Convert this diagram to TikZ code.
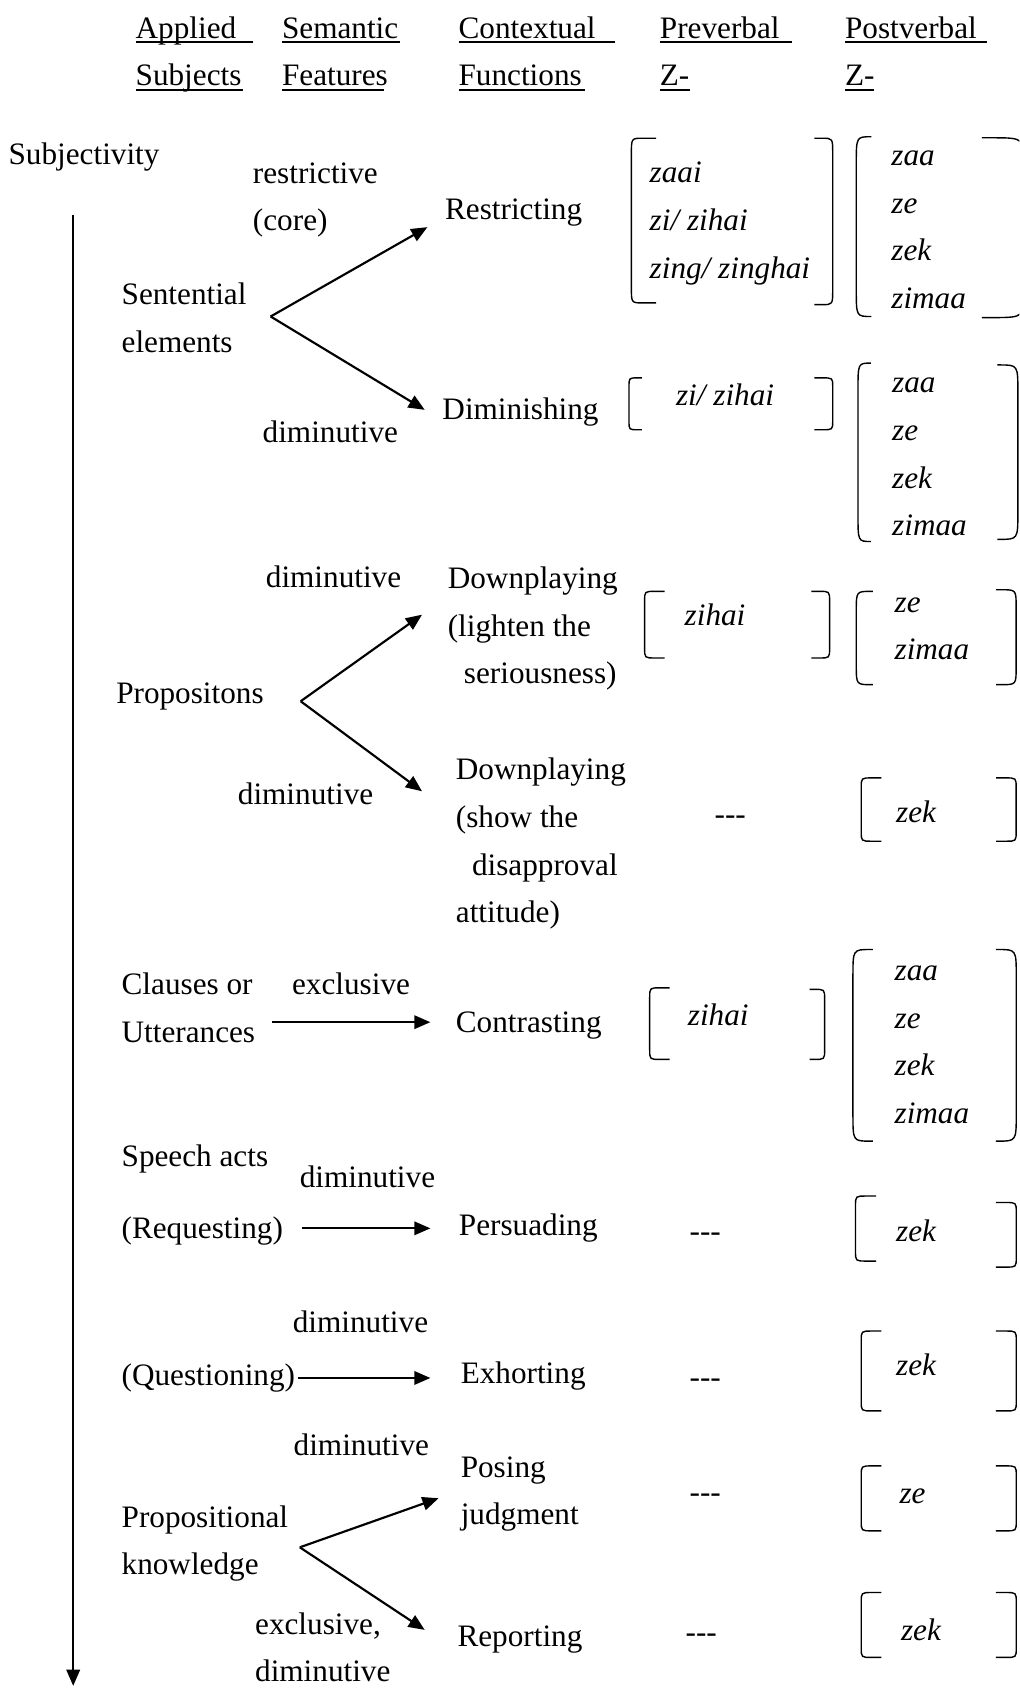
\documentclass[tikz,border=0pt]{standalone}
\usepackage{fontspec}
\setmainfont{Liberation Serif}
\usetikzlibrary{arrows.meta}

% left (opening) bracket: x, top, bottom, reach, corner, bend height
\newcommand\brL[6]{\draw[brk] (#1+#4,#2) -- (#1+#5,#2) .. controls (#1,#2) .. (#1,#2+#6)
  -- (#1,#3-#6) .. controls (#1,#3) .. (#1+#5,#3) -- (#1+#4,#3);}
% right (closing) bracket: x, top, bottom, reach, corner, bend height
\newcommand\brR[6]{\draw[brk] (#1-#4,#2) -- (#1-#5,#2) .. controls (#1,#2) .. (#1,#2+#6)
  -- (#1,#3-#6) .. controls (#1,#3) .. (#1-#5,#3) -- (#1-#4,#3);}

\begin{document}
\begin{tikzpicture}[x=1pt, y=-1pt,
  plain/.style={anchor=west, inner sep=0pt, outer sep=0pt, align=left,
    font=\fontsize{29}{44.3}\selectfont},
  txt/.style={plain, execute at end node=\strut},
  zw/.style={txt, font=\fontsize{29}{44.3}\selectfont\itshape},
  arr/.style={line width=2pt, -{Triangle[length=15pt,width=12.5pt]}},
  brk/.style={line width=1.3pt},
  ul/.style={line width=1.3pt}]
\useasboundingbox (0,0) rectangle (947,1568);
\clip (0,0) rectangle (947,1568);

% ---------- column headings ----------
\node[txt] (hA1) at (126,27) {Applied};
\node[txt] (hS1) at (262,27) {Semantic};
\node[txt] (hC1) at (426,27) {Contextual};
\node[txt] (hP1) at (613,27) {Preverbal};
\node[txt] (hQ1) at (785,27) {Postverbal};
\node[txt] (hA2) at (126,71) {Subjects};
\node[txt] (hS2) at (262,71) {Features};
\node[txt] (hC2) at (426,71) {Functions};
\node[txt] (hP2) at (613,71) {Z-};
\node[txt] (hQ2) at (785,71) {Z-};
\draw[ul] (126,39) -- (235,39);
\draw[ul] (262,39) -- (372,39);
\draw[ul] (426,39) -- (571,39);
\draw[ul] (613,39) -- (736,39);
\draw[ul] (785,39) -- (917,39);
\draw[ul] (126,83.5) -- (226,83.5);
\draw[ul] (262,83.5) -- (357,83.5);
\draw[ul] (426,83.5) -- (543,83.5);
\draw[ul] (613,83.5) -- (641,83.5);
\draw[ul] (785,83.5) -- (812,83.5);

% ---------- subjectivity axis ----------
\node[txt] (subj) at (8,144) {Subjectivity};
\coordinate (axTop) at (68,199.6);
\coordinate (axEnd) at (68,1566);
\draw[arr] (axTop) -- (axEnd);

% ---------- sentential elements ----------
\node[txt] (restrF) at (235,183.3) {\strut restrictive\\(core)};
\node[txt] (restrC) at (413.5,195) {Restricting};
\node[txt] (sent) at (113,296.3) {\strut Sentential\\elements};
\node[txt] (dimC) at (411,380.7) {Diminishing};
\node[txt] (dimF) at (244,402.3) {diminutive};
\coordinate (sentApex) at (251.4,294);
\coordinate (restrTip) at (397,211);
\coordinate (dimTip) at (394.5,380.7);
\draw[arr] (sentApex) -- (restrTip);
\draw[arr] (sentApex) -- (dimTip);

\node[zw] (pre1) at (603.5,205.2) {\strut zaai\\zi/ zihai\\zing/ zinghai};
\brL{586.5}{128.4}{281.4}{23}{11}{14}
\brR{773.5}{128.4}{283}{17}{10}{14}
\node[zw] (post1) at (828,211.4) {\strut zaa\\ze\\zek\\zimaa};
\brL{795.4}{127}{294}{14}{14}{25}
\brR{952}{128}{295}{40}{30}{30}

\node[zw] (pre2) at (628,368) {zi/ zihai};
\brL{584.3}{351}{399.2}{12}{8}{8}
\brR{773.5}{351}{399.2}{17}{10}{8}
\node[zw] (post2) at (828.8,422.4) {\strut zaa\\ze\\zek\\zimaa};
\brL{797}{337.3}{503}{12}{12}{25}
\brR{945.5}{339}{501}{19}{17}{25}

% ---------- propositions ----------
\node[txt] (dpF1) at (247,537) {diminutive};
\node[txt] (dpC1) at (416,582) {\strut Downplaying\\(lighten the\\\hspace*{15pt}seriousness)};
\node[txt] (props) at (108,645) {Propositons};
\node[txt] (dpF2) at (221,738) {diminutive};
\node[txt] (dpC2) at (423.5,781.8) {\strut Downplaying\\(show the\\\hspace*{15pt}disapproval\\attitude)};
\coordinate (propApex) at (279.3,651.4);
\coordinate (dpTip1) at (392,571);
\coordinate (dpTip2) at (392,735);
\draw[arr] (propApex) -- (dpTip1);
\draw[arr] (propApex) -- (dpTip2);

\node[zw] (pre3) at (636,572.5) {zihai};
\brL{598.8}{549.3}{611.2}{18.6}{10}{9}
\brR{770.6}{549.3}{611.2}{17}{10}{9}
\node[zw] (post3) at (831,581.8) {\strut ze\\zimaa};
\brL{795.4}{549.3}{636}{15.4}{14}{18}
\brR{943.9}{547.8}{636}{18.6}{14}{16}

\node[txt] (pre4) at (663.8,756.7) {\mbox{-}\mbox{-}\mbox{-}};
\node[zw] (post4) at (832.5,755.1) {zek};
\brL{800}{722.6}{781.4}{18.6}{10}{9}
\brR{943.9}{722.6}{781.4}{18.6}{10}{9}

% ---------- clauses or utterances ----------
\node[txt] (clau) at (113,937.2) {\strut Clauses or\\Utterances};
\node[txt] (exF) at (271.3,915) {exclusive};
\node[txt] (conC) at (423.5,950) {Contrasting};
\coordinate (clauStart) at (253,949.5);
\coordinate (conTip) at (399.8,949.5);
\draw[arr] (clauStart) -- (conTip);

\node[zw] (pre5) at (639,943.9) {zihai};
\brL{603.5}{917.6}{984.1}{18.5}{10}{9}
\brR{766}{919}{984.1}{14}{10}{9}
\node[zw] (post5) at (831,968.3) {\strut zaa\\ze\\zek\\zimaa};
\brL{792.3}{882}{1060}{18.5}{16}{25}
\brR{944}{882}{1060}{19}{17}{25}

% ---------- speech acts ----------
\node[txt] (speech) at (113,1075) {Speech acts};
\node[txt] (perF) at (278.5,1094) {diminutive};
\node[txt] (req) at (113,1142) {(Requesting)};
\node[txt] (perC) at (426.3,1139) {Persuading};
\coordinate (reqStart) at (280.4,1141);
\coordinate (perTip) at (399.8,1141);
\draw[arr] (reqStart) -- (perTip);
\node[txt] (pre6) at (640.6,1144.4) {\mbox{-}\mbox{-}\mbox{-}};
\node[zw] (post6) at (832.5,1144) {zek};
\brL{794.7}{1111}{1171.4}{19.2}{10}{9}
\brR{944}{1117}{1177}{19}{10}{9}

\node[txt] (exhF) at (272,1228.5) {diminutive};
\node[txt] (ques) at (113,1278) {(Questioning)};
\node[txt] (exhC) at (428,1276.6) {Exhorting};
\coordinate (quesStart) at (277,1280);
\coordinate (exhTip) at (399.8,1280);
\draw[arr] (quesStart) -- (exhTip);
\node[txt] (pre7) at (640.6,1279.7) {\mbox{-}\mbox{-}\mbox{-}};
\node[zw] (post7) at (832.5,1268.8) {zek};
\brL{800}{1236.4}{1310.6}{18.6}{10}{9}
\brR{944}{1236.4}{1310.6}{19}{10}{9}

% ---------- propositional knowledge ----------
\node[txt] (posF) at (272.8,1343) {diminutive};
\node[txt] (posC) at (428,1385.5) {\strut Posing\\judgment};
\node[txt] (pk) at (113,1432) {\strut Propositional\\knowledge};
\node[txt] (repC) at (425,1521) {Reporting};
% last line sits on the lower edge: box ends at its baseline
\node[plain, anchor=south west] (repF) at (237,1562.5)
  {\strut exclusive,\\diminutive};
\coordinate (pkApex) at (278.5,1437.3);
\coordinate (posTip) at (407.4,1391.7);
\coordinate (repTip) at (394.5,1514);
\draw[arr] (pkApex) -- (posTip);
\draw[arr] (pkApex) -- (repTip);

\node[txt] (pre8) at (640.6,1386.4) {\mbox{-}\mbox{-}\mbox{-}};
\node[zw] (post8) at (835.6,1388) {ze};
\brL{800}{1361.7}{1422}{18.6}{10}{9}
\brR{944}{1361.7}{1422}{19}{10}{9}

\node[txt] (pre9) at (636.9,1516.4) {\mbox{-}\mbox{-}\mbox{-}};
\node[zw] (post9) at (837,1515) {zek};
\brL{800}{1479.3}{1539.6}{18.6}{10}{9}
\brR{944}{1479.3}{1539.6}{19}{10}{9}
\end{tikzpicture}
\end{document}
